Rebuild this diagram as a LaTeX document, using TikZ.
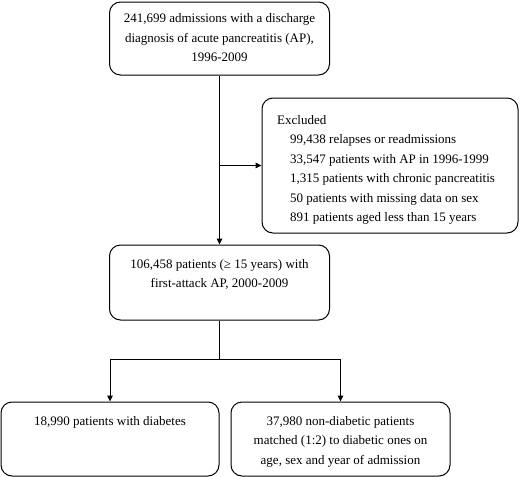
\documentclass[tikz,border=0pt]{standalone}
\usepackage{fontspec}
\setmainfont{Liberation Serif}
\usetikzlibrary{arrows.meta}
\newcommand{\fstrut}{\rule{0pt}{10pt}}
\begin{document}
\begin{tikzpicture}[x=1pt,y=-1pt,
  box/.style={draw, line width=1pt, rounded corners=11pt, inner sep=0pt},
  txt/.style={inner sep=0pt, align=center, font=\fontsize{13}{19.5}\selectfont},
  ltxt/.style={inner sep=0pt, align=left, font=\fontsize{13}{19.5}\selectfont},
  conn/.style={line width=1pt},
  arr/.style={line width=1pt, -{Triangle[length=6pt,width=5.5pt]}}]
\useasboundingbox (0,0) rectangle (520,477);
% boxes
\node[box, minimum width=220pt, minimum height=73pt] (top) at (219.5,38.5) {};
\node[box, minimum width=256pt, minimum height=135pt] (excl) at (390,165.5) {};
\node[box, minimum width=220pt, minimum height=75pt] (mid) at (219.5,282.5) {};
\node[box, minimum width=218pt, minimum height=74pt] (dia) at (110,439) {};
\node[box, minimum width=219pt, minimum height=74pt] (non) at (340.5,439) {};
% texts
\node[txt, anchor=north] (ttop) at (219.5,12.5) {\fstrut 241,699 admissions with a discharge\\diagnosis of acute pancreatitis (AP),\\1996-2009};
\node[ltxt, anchor=base west] (texh) at (277,124) {Excluded};
\node[ltxt, anchor=north west] (texl) at (290,133.5) {\fstrut 99,438 relapses or readmissions\\33,547 patients with AP in 1996-1999\\1,315 patients with chronic pancreatitis\\50 patients with missing data on sex\\891 patients aged less than 15 years};
\node[txt, anchor=north] (tmid) at (219.5,258) {\fstrut 106,458 patients (≥ 15 years) with\\first-attack AP, 2000-2009};
\node[txt, anchor=base] (tdia) at (110,425) {18,990 patients with diabetes};
\node[txt, anchor=north] (tnon) at (340.5,415) {\fstrut 37,980 non-diabetic patients\\matched (1:2) to diabetic ones on\\age, sex and year of admission};
% connectors
\coordinate (br) at (top.south |- excl.west);
\coordinate (sp) at (mid.south |- 0,359);
\coordinate (spl) at (dia.north |- sp);
\coordinate (spr) at (non.north |- sp);
\draw[arr] (top.south) -- (mid.north);
\draw[arr] (br) -- (excl.west);
\draw[conn] (mid.south) -- (sp);
\draw[conn] (spl) -- (spr);
\draw[arr] (spl) -- (dia.north);
\draw[arr] (spr) -- (non.north);
\end{tikzpicture}
\end{document}
